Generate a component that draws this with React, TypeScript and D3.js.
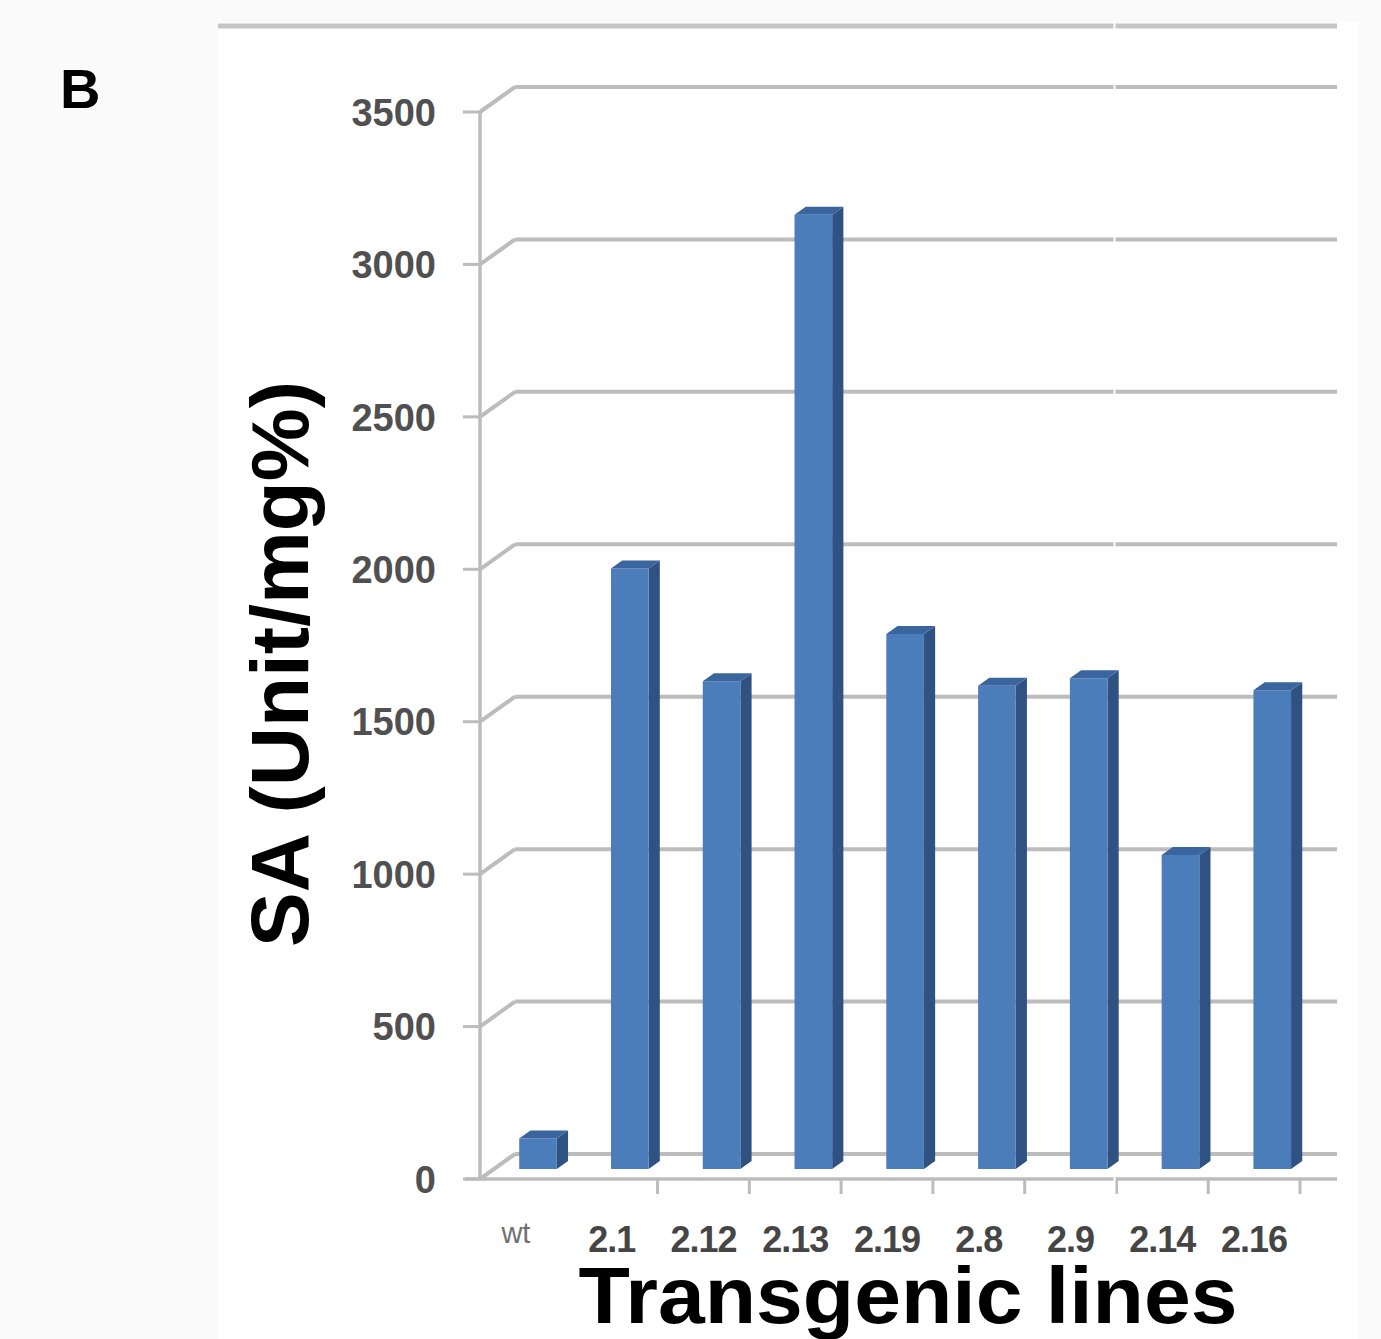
import React, { useEffect, useRef } from 'react';
import * as d3 from 'd3';

// transgenic lines and their SA activity (Unit/mg%)
const categories = ['wt', '2.1', '2.12', '2.13', '2.19', '2.8', '2.9', '2.14', '2.16'];
const saValues = [100, 1970, 1600, 3130, 1755, 1585, 1610, 1030, 1570];
const yTicks = [0, 500, 1000, 1500, 2000, 2500, 3000, 3500];

const W = 1381;
const H = 1339;
const AXIS_X = 480;
const RIGHT_X = 1337;
const DEPTH_X = 35;
const DEPTH_Y = -25;

const App = () => {
    const chartRef = useRef(null);

    useEffect(() => {
        const svg = d3.select(chartRef.current);
        svg.selectAll('*').remove();

        const font = "'Liberation Sans', Arial, sans-serif";

        const xScale = d3.scaleBand()
            .domain(categories)
            .range([474, 1300])
            .paddingInner(0)
            .paddingOuter(0);
        const bw = xScale.bandwidth();

        const yScale = d3.scaleLinear()
            .domain([0, 3500])
            .range([1179, 112]);

        // point in 3d: x on front plane, value, depth 0 (front) .. 1 (back wall)
        const proj = (x, v, f) => [x + f * DEPTH_X, yScale(v) + f * DEPTH_Y];

        // page + panel
        svg.append('rect').attr('width', W).attr('height', H).attr('fill', '#fafafa');
        svg.append('rect')
            .attr('x', 218).attr('y', 22)
            .attr('width', 1358 - 218).attr('height', H - 22)
            .attr('fill', '#ffffff');
        svg.append('line')
            .attr('x1', 218).attr('x2', RIGHT_X)
            .attr('y1', 26).attr('y2', 26)
            .attr('stroke', '#c6c6c6').attr('stroke-width', 5);

        const grid = svg.append('g')
            .attr('stroke', '#bcbcbc')
            .attr('stroke-width', 4)
            .attr('fill', 'none');

        // back wall gridlines + diagonals to the front axis
        yTicks.forEach(t => {
            const [bx, by] = proj(AXIS_X, t, 1);
            const [fx, fy] = proj(AXIS_X, t, 0);
            grid.append('line').attr('x1', bx).attr('y1', by).attr('x2', RIGHT_X).attr('y2', by);
            grid.append('line').attr('x1', fx).attr('y1', fy).attr('x2', bx).attr('y2', by);
            grid.append('line').attr('x1', fx - 17).attr('y1', fy).attr('x2', fx).attr('y2', fy)
                .attr('stroke-width', 3);
        });

        // front vertical axis and floor edge
        grid.append('line')
            .attr('x1', AXIS_X).attr('x2', AXIS_X)
            .attr('y1', yScale(0)).attr('y2', yScale(3500))
            .attr('stroke-width', 3.5);
        grid.append('line')
            .attr('x1', 465).attr('x2', RIGHT_X)
            .attr('y1', yScale(0)).attr('y2', yScale(0))
            .attr('stroke-width', 3.5);

        // category boundary ticks below the floor
        categories.slice(1).forEach(c => {
            const x = xScale(c) + bw;
            grid.append('line')
                .attr('x1', x).attr('x2', x)
                .attr('y1', yScale(0)).attr('y2', yScale(0) + 15)
                .attr('stroke-width', 3);
        });

        // white seam of the pasted image (only over the grid)
        svg.append('line')
            .attr('x1', 1114.5).attr('x2', 1114.5)
            .attr('y1', 22).attr('y2', 1200)
            .attr('stroke', '#ffffff').attr('stroke-width', 2);

        // 3d columns
        const f0 = 0.4;
        const f1 = 0.72;
        const poly = pts => 'M' + pts.map(p => p.join(',')).join('L') + 'Z';
        const bars = svg.append('g');
        categories.forEach((c, i) => {
            const v = saValues[i];
            const x0 = xScale(c) + bw * 0.34;
            const x1 = x0 + bw * 0.41;
            bars.append('path')
                .attr('d', poly([proj(x1, 0, f0), proj(x1, 0, f1), proj(x1, v, f1), proj(x1, v, f0)]))
                .attr('fill', '#2f5283');
            bars.append('path')
                .attr('d', poly([proj(x0, 0, f0), proj(x1, 0, f0), proj(x1, v, f0), proj(x0, v, f0)]))
                .attr('fill', '#4b7dba');
            bars.append('path')
                .attr('d', poly([proj(x0, v, f0), proj(x1, v, f0), proj(x1, v, f1), proj(x0, v, f1)]))
                .attr('fill', '#3a659f');
        });

        // y tick labels
        svg.append('g')
            .selectAll('text')
            .data(yTicks)
            .enter()
            .append('text')
            .attr('x', 436)
            .attr('y', d => yScale(d))
            .attr('dy', '0.36em')
            .attr('text-anchor', 'end')
            .attr('font-family', font)
            .attr('font-weight', 'bold')
            .attr('font-size', 38)
            .attr('fill', '#505050')
            .text(d => d);

        // x category labels
        svg.append('g')
            .selectAll('text')
            .data(categories)
            .enter()
            .append('text')
            .attr('x', d => xScale(d) + bw / 2 + (d === 'wt' ? -4 : 0))
            .attr('y', d => d === 'wt' ? 1243 : 1252)
            .attr('text-anchor', 'middle')
            .attr('font-family', font)
            .attr('font-weight', d => d === 'wt' ? 'normal' : 'bold')
            .attr('font-size', d => d === 'wt' ? 29 : 36)
            .attr('letter-spacing', d => d === 'wt' ? 0 : -1)
            .attr('fill', d => d === 'wt' ? '#707070' : '#454545')
            .text(d => d);

        // titles
        svg.append('text')
            .attr('transform', 'translate(308,664) rotate(-90)')
            .attr('text-anchor', 'middle')
            .attr('font-family', font)
            .attr('font-weight', 'bold')
            .attr('font-size', 81)
            .attr('textLength', 566)
            .attr('lengthAdjust', 'spacingAndGlyphs')
            .attr('fill', '#000')
            .text('SA (Unit/mg%)');

        svg.append('text')
            .attr('x', 908)
            .attr('y', 1323)
            .attr('text-anchor', 'middle')
            .attr('font-family', font)
            .attr('font-weight', 'bold')
            .attr('font-size', 80)
            .attr('textLength', 659)
            .attr('lengthAdjust', 'spacingAndGlyphs')
            .attr('fill', '#000')
            .text('Transgenic lines');

        svg.append('text')
            .attr('x', 60)
            .attr('y', 108)
            .attr('font-family', font)
            .attr('font-weight', 'bold')
            .attr('font-size', 56)
            .attr('fill', '#000')
            .text('B');
    }, []);

    return (
        <div style={{ position: 'absolute', left: 0, top: 0 }}>
            <svg ref={chartRef} width={W} height={H} style={{ display: 'block' }}></svg>
        </div>
    );
};

export default App;
